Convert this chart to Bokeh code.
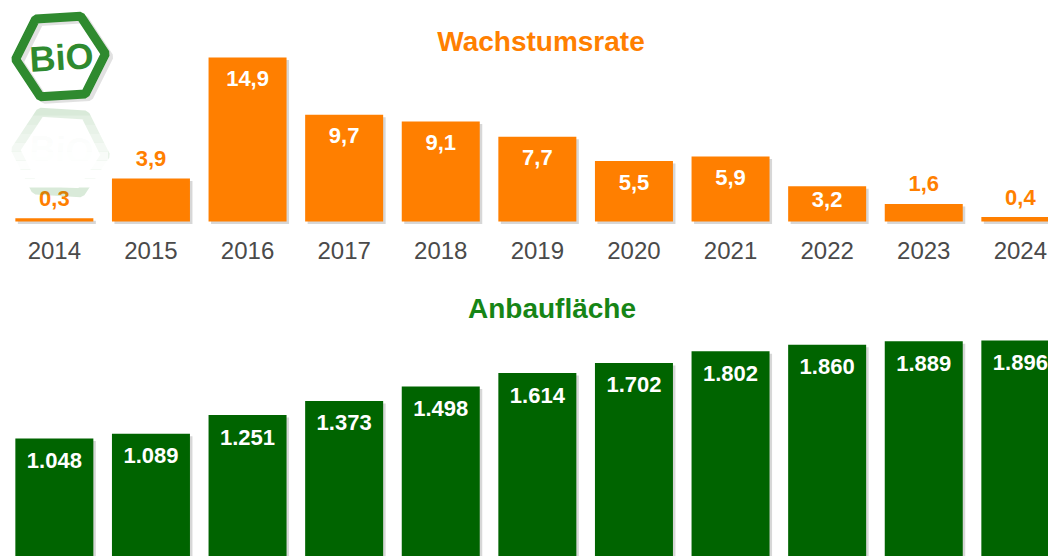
from bokeh.plotting import figure
from bokeh.models import Range1d, ColumnDataSource
from bokeh.core.properties import value
from bokeh.embed import file_html
from bokeh.resources import INLINE

# ---------------- data ----------------
years = ["2014", "2015", "2016", "2017", "2018", "2019", "2020", "2021", "2022", "2023", "2024"]
growth = [0.3, 3.9, 14.9, 9.7, 9.1, 7.7, 5.5, 5.9, 3.2, 1.6, 0.4]
growth_labels = ["0,3", "3,9", "14,9", "9,7", "9,1", "7,7", "5,5", "5,9", "3,2", "1,6", "0,4"]
growth_label_inside = [False, False, True, True, True, True, True, True, True, False, False]
area = [1048, 1089, 1251, 1373, 1498, 1614, 1702, 1802, 1860, 1889, 1896]
area_labels = ["1.048", "1.089", "1.251", "1.373", "1.498", "1.614", "1.702", "1.802", "1.860", "1.889", "1.896"]
title_growth = "Wachstumsrate"
title_area = "Anbaufläche"
logo_text = "BiO"

# ---------------- layout ----------------
W, H = 1048, 556
PITCH = 96.6          # px between bar centres
X0 = 53.85            # page x of first bar centre
G_BASE, G_PX = 221.0, 11.0        # growth baseline (page y) and px per unit
A_BASE, A_PX = 559.1, 0.11557     # area baseline (page y) and px per unit
TS = 9.0              # text baseline correction (px)

def px_x(px):
    return (px - X0) / PITCH

def py_g(py):
    return (G_BASE - py) / G_PX

def py_a(py):
    return (A_BASE - py) / A_PX

ORANGE = "#FF7F00"
GREEN = "#006400"
GREEN_TITLE = "#168516"
LOGO_GREEN = "#2f8a2f"
SANS = value("Liberation Sans")

p = figure(width=W, height=H, output_backend="svg", toolbar_location=None,
           x_range=Range1d(px_x(0), px_x(W)),
           y_range=Range1d(py_g(H), py_g(0)),
           x_axis_type=None, y_axis_type=None, min_border=0)
p.extra_y_ranges = {"area": Range1d(py_a(H), py_a(0))}
p.outline_line_color = None
p.xgrid.visible = False
p.ygrid.visible = False
p.background_fill_color = "white"
p.border_fill_color = "white"

idx = list(range(len(years)))
bw = 78.0 / PITCH
sdx = 2.5 / PITCH

# ---- growth bars ----
src_g = ColumnDataSource(dict(
    x=idx, xs=[i + sdx for i in idx], top=growth,
    stop=[v - 2.5 / G_PX for v in growth],
    ly=[(v - (min(30.0, v * G_PX / 2 + 5) - TS) / G_PX) if ins else (v + (11.0 + TS) / G_PX)
        for v, ins in zip(growth, growth_label_inside)],
    lc=["white" if ins else ORANGE for ins in growth_label_inside],
    lab=growth_labels, yr=years))
p.vbar(x="xs", top="stop", bottom=-2.5 / G_PX, width=bw, source=src_g,
       fill_color="#bdbdbd", line_color=None, fill_alpha=0.6)
p.vbar(x="x", top="top", bottom=0, width=bw, source=src_g,
       fill_color=ORANGE, line_color=None)
p.text(x="x", y="ly", text="lab", source=src_g, text_color="lc",
       text_font=SANS, text_font_style="bold", text_font_size="22px",
       text_align="center", text_baseline="alphabetic")
p.text(x="x", y=py_g(259 - TS), text="yr", source=src_g, text_color="#4a4a4a",
       text_font=SANS, text_font_size="24px",
       text_align="center", text_baseline="alphabetic")

# ---- area bars ----
src_a = ColumnDataSource(dict(
    x=idx, xs=[i + sdx for i in idx], top=area,
    stop=[v - 2.5 / A_PX for v in area],
    ly=[v - (31.0 - TS) / A_PX for v in area], lab=area_labels))
p.vbar(x="xs", top="stop", bottom=0, width=bw, source=src_a, y_range_name="area",
       fill_color="#bdbdbd", line_color=None, fill_alpha=0.6)
p.vbar(x="x", top="top", bottom=0, width=bw, source=src_a, y_range_name="area",
       fill_color=GREEN, line_color=None)
p.text(x="x", y="ly", text="lab", source=src_a, y_range_name="area",
       text_color="white", text_font=SANS, text_font_style="bold",
       text_font_size="22px", text_align="center", text_baseline="alphabetic")

# ---- titles ----
p.text(x=[px_x(540.5)], y=[py_g(50 - TS)], text=[title_growth], text_color=ORANGE,
       text_font=SANS, text_font_style="bold", text_font_size="28px",
       text_align="center", text_baseline="alphabetic")
p.text(x=[px_x(551.5)], y=[py_g(317 - TS)], text=[title_area], text_color=GREEN_TITLE,
       text_font=SANS, text_font_style="bold", text_font_size="28px",
       text_align="center", text_baseline="alphabetic")

# ---- logo ----
lx, ly = px_x(60), py_g(56)
p.scatter(x=[px_x(64)], y=[py_g(59)], marker="hex", size=90, angle=0.06,
          fill_color=None, line_color="#9a9a9a", line_width=8, line_alpha=0.3)
p.scatter(x=[lx], y=[ly], marker="hex", size=90, angle=0.06,
          fill_color=None, line_color=LOGO_GREEN, line_width=9)
p.text(x=[px_x(61)], y=[py_g(57)], text=[logo_text], text_color=LOGO_GREEN,
       text_font=SANS, text_font_style="bold", text_font_size="36px",
       angle=0.06, text_align="center", text_baseline="middle")
# reflection
p.scatter(x=[lx], y=[py_g(152)], marker="hex", size=90, angle=-0.06,
          fill_color=None, line_color=LOGO_GREEN, line_width=9, line_alpha=0.18)
p.text(x=[px_x(61)], y=[py_g(149)], text=[logo_text], text_color=LOGO_GREEN,
       text_font=SANS, text_font_style="bold", text_font_size="36px",
       angle=-0.06, text_align="center", text_baseline="middle", text_alpha=0.05)
for k in range(8):
    top_px = 115 + k * 9
    p.quad(left=px_x(0), right=px_x(108), top=py_g(top_px), bottom=py_g(min(top_px + 9, 188)),
           fill_color="white", fill_alpha=min(1.0, 0.25 + k * 0.14), line_color=None)

open("out.html", "w").write(file_html(p, INLINE))
